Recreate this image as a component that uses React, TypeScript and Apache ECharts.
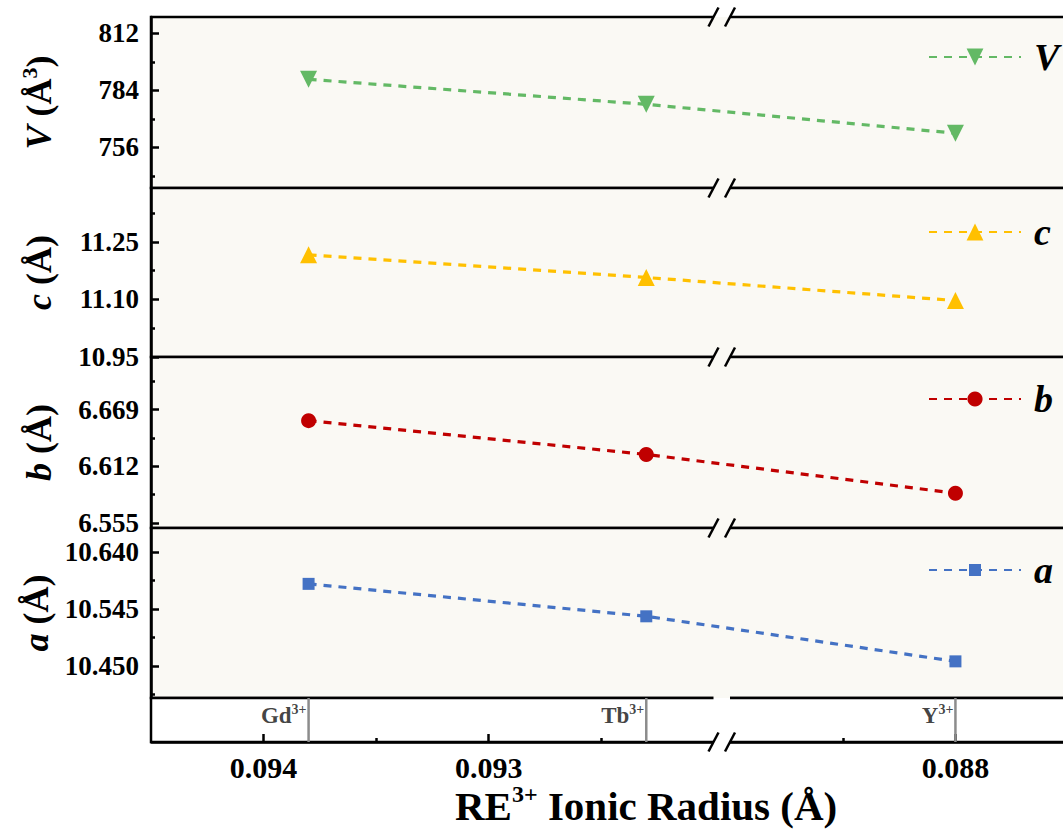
import React, { useEffect, useRef } from 'react';
import * as echarts from 'echarts';

// ---------- data ----------
const ions = ['Gd', 'Tb', 'Y'];
const ionicRadius = [0.0938, 0.0923, 0.088];
const volumeV = [789.4, 777.1, 762.9];
const latticeC = [11.216, 11.157, 11.097];
const latticeB = [6.658, 6.624, 6.585];
const latticeA = [10.587, 10.533, 10.458];

const xTickLabels = [0.094, 0.093, 0.088];
const xMinorTicks = [0.0935, 0.0925, 0.0885];
const xBreakStart = 0.089;
const xBreakEnd = 0.092;

const vTicks = [756, 784, 812];
const vMinor = [742, 770, 798];
const cTicks = [10.95, 11.1, 11.25];
const cMinor = [11.025, 11.175, 11.325];
const bTicks = [6.555, 6.612, 6.669];
const bMinor = [6.5835, 6.6405, 6.6975];
const aTicks = [10.45, 10.545, 10.64];
const aMinor = [10.4025, 10.4975, 10.5925];

// ---------- style ----------
const SERIF = "'Times New Roman', 'Liberation Serif', serif";
const PANEL_BG = '#FAF9F4';
const X_MIN = 0.0875;
const X_MAX = 0.0945;
const BREAK_GAP = 0.0000733;
const GRID_LEFT = 151;
const GRID_WIDTH = 917;

const panels = [
  { name: 'V', values: volumeV, min: 736, max: 820, ticks: vTicks, minor: vMinor, dec: 0, top: 17, height: 171,
    color: '#63B965', symbol: 'triangle', rotate: 180, size: 17, legendH: 21, legendTop: 36,
    axisName: '{i|V}{n| (Å}{s|3}{n|)}' },
  { name: 'c', values: latticeC, min: 10.95, max: 11.39, ticks: cTicks, minor: cMinor, dec: 2, top: 188, height: 169,
    color: '#FFC000', symbol: 'triangle', rotate: 0, size: 17, legendH: 21, legendTop: 211,
    axisName: '{i|c}{n| (Å)}' },
  { name: 'b', values: latticeB, min: 6.55, max: 6.722, ticks: bTicks, minor: bMinor, dec: 3, top: 357, height: 171,
    color: '#C00000', symbol: 'circle', rotate: 0, size: 15, legendH: 19, legendTop: 378,
    axisName: '{i|b}{n| (Å)}' },
  { name: 'a', values: latticeA, min: 10.397, max: 10.68, ticks: aTicks, minor: aMinor, dec: 3, top: 528, height: 170,
    color: '#4472C4', symbol: 'rect', rotate: 0, size: 12, legendH: 15, legendTop: 549,
    axisName: '{i|a}{n| (Å)}' },
];

const STRIP_TOP = 698;
const STRIP_HEIGHT = 44;

const nameRich = {
  i: { fontFamily: SERIF, fontWeight: 'bold', fontStyle: 'italic', fontSize: 36, lineHeight: 42, color: '#000' },
  n: { fontFamily: SERIF, fontWeight: 'bold', fontSize: 36, lineHeight: 42, color: '#000' },
  s: { fontFamily: SERIF, fontWeight: 'bold', fontSize: 22, lineHeight: 30, verticalAlign: 'top', color: '#000' },
};

function xAxisBase(gridIndex: number) {
  return {
    type: 'value',
    gridIndex,
    inverse: true,
    min: X_MIN,
    max: X_MAX,
    breaks: [{ start: xBreakStart, end: xBreakEnd, gap: BREAK_GAP }],
    breakArea: { show: false },
    splitLine: { show: false },
  };
}

function buildOption() {
  const grids: any[] = panels.map((p) => ({
    left: GRID_LEFT, top: p.top, width: GRID_WIDTH, height: p.height,
    show: true, backgroundColor: PANEL_BG, borderColor: '#000', borderWidth: 2.5,
    outerBoundsMode: 'none',
  }));
  grids.push({
    left: GRID_LEFT, top: STRIP_TOP, width: GRID_WIDTH, height: STRIP_HEIGHT,
    show: true, backgroundColor: '#fff', borderColor: '#000', borderWidth: 2.5,
    outerBoundsMode: 'none',
  });

  const xAxes: any[] = panels.map((_, i) => ({ ...xAxisBase(i), show: false }));
  xAxes.push({
    ...xAxisBase(4),
    position: 'bottom',
    axisLine: { show: true, lineStyle: { color: '#000', width: 2.5 } },
    axisTick: { show: true, inside: true, length: 8, lineStyle: { color: '#000', width: 2.5 }, customValues: xTickLabels },
    axisLabel: {
      show: true, customValues: xTickLabels, formatter: (v: number) => v.toFixed(3),
      fontFamily: SERIF, fontWeight: 'bold', fontSize: 30, color: '#000', margin: 10,
    },
  });
  xAxes.push({
    ...xAxisBase(4),
    position: 'bottom',
    axisLine: { show: false },
    axisTick: { show: true, inside: true, length: 4, lineStyle: { color: '#000', width: 2.5 }, customValues: xMinorTicks },
    axisLabel: { show: false },
  });

  const yAxes: any[] = [];
  panels.forEach((p, i) => {
    yAxes.push({
      type: 'value', gridIndex: i, min: p.min, max: p.max, position: 'left',
      name: p.axisName, nameLocation: 'middle', nameRotate: 90, nameGap: 91,
      nameTextStyle: { rich: nameRich },
      axisLine: { show: true, lineStyle: { color: '#000', width: 2.5 } },
      axisTick: { show: true, inside: true, length: 8, lineStyle: { color: '#000', width: 2.5 }, customValues: p.ticks },
      axisLabel: {
        show: true, customValues: p.ticks, formatter: (v: number) => v.toFixed(p.dec),
        fontFamily: SERIF, fontWeight: 'bold', fontSize: 27, color: '#000', margin: 12,
      },
      splitLine: { show: false },
    });
    yAxes.push({
      type: 'value', gridIndex: i, min: p.min, max: p.max, position: 'left',
      axisLine: { show: false },
      axisTick: { show: true, inside: true, length: 4, lineStyle: { color: '#000', width: 2.5 }, customValues: p.minor },
      axisLabel: { show: false },
      splitLine: { show: false },
    });
  });
  yAxes.push({ type: 'value', gridIndex: 4, min: 0, max: 1, show: false });
  const stripY = yAxes.length - 1;

  const series: any[] = panels.map((p, i) => ({
    name: p.name,
    type: 'line',
    xAxisIndex: i,
    yAxisIndex: i * 2,
    data: ionicRadius.map((r, k) => [r, p.values[k]]),
    symbol: p.symbol,
    symbolRotate: p.rotate,
    symbolSize: p.size,
    itemStyle: { color: p.color },
    lineStyle: { color: p.color, width: 3.2, type: [8, 7] },
    z: 5,
  }));

  // gray marker lines for each ion in the bottom strip
  ionicRadius.forEach((r, k) => {
    series.push({
      name: `${ions[k]}-line`,
      type: 'line',
      xAxisIndex: 4,
      yAxisIndex: stripY,
      data: [[r, 0], [r, 1]],
      symbol: 'none',
      silent: true,
      lineStyle: { color: '#8C8C8C', width: 2.5, type: 'solid' },
      z: 4,
    });
  });

  series.push({
    name: 'ions',
    type: 'scatter',
    xAxisIndex: 4,
    yAxisIndex: stripY,
    data: ionicRadius.map((r, k) => ({ value: [r, 1], name: ions[k] })),
    symbolSize: 0,
    silent: true,
    label: {
      show: true,
      position: 'left',
      distance: 2,
      offset: [0, 17],
      formatter: (p: any) => `{b|${p.name}}{s|3+}`,
      rich: {
        b: { fontFamily: SERIF, fontWeight: 'bold', fontSize: 23, lineHeight: 26, color: '#111' },
        s: { fontFamily: SERIF, fontWeight: 'bold', fontSize: 14, lineHeight: 16, verticalAlign: 'top', color: '#111' },
      },
    },
    z: 6,
  });

  const legends = panels.map((p) => ({
    data: [p.name],
    left: 928,
    top: p.legendTop,
    padding: 0,
    itemWidth: 92,
    itemHeight: p.legendH,
    selectedMode: false,
    textStyle: {
      fontFamily: SERIF, fontWeight: 'bold', fontStyle: 'italic', fontSize: 38, lineHeight: 42,
      color: '#000', padding: [0, 0, 0, 8],
    },
  }));

  // break decorations
  const breakX1 = 713.5;
  const breakX2 = 730;
  const slashLines = [17, 188, 357, 528, 742];
  const graphics: any[] = [];
  const masks = [
    { y: 15, h: 2, fill: '#fff' }, { y: 17, h: 2.5, fill: PANEL_BG },
    { y: 186, h: 4, fill: PANEL_BG }, { y: 355, h: 4, fill: PANEL_BG }, { y: 526, h: 4, fill: PANEL_BG },
    { y: 696, h: 2, fill: PANEL_BG }, { y: 698, h: 41.5, fill: '#fff' },
    { y: 739.5, h: 5, fill: '#fff' },
  ];
  masks.forEach((m) => {
    graphics.push({ type: 'rect', z: 100, silent: true, shape: { x: breakX1, y: m.y, width: breakX2 - breakX1, height: m.h }, style: { fill: m.fill } });
  });
  slashLines.forEach((y) => {
    [breakX1, breakX2].forEach((cx) => {
      graphics.push({ type: 'line', z: 101, silent: true, shape: { x1: cx - 5, y1: y + 9.5, x2: cx + 5, y2: y - 9.5 }, style: { stroke: '#000', lineWidth: 2.5 } });
    });
  });

  return {
    animation: false,
    backgroundColor: '#fff',
    title: {
      text: '{n|RE}{s|3+}{n| Ionic Radius (Å)}',
      left: 455,
      top: 782,
      padding: 0,
      textStyle: {
        rich: {
          n: { fontFamily: SERIF, fontWeight: 'bold', fontSize: 41, lineHeight: 48, color: '#000' },
          s: { fontFamily: SERIF, fontWeight: 'bold', fontSize: 24, lineHeight: 32, verticalAlign: 'top', color: '#000' },
        },
      },
    },
    legend: legends,
    grid: grids,
    xAxis: xAxes,
    yAxis: yAxes,
    series,
    graphic: graphics,
  };
}

export default function App() {
  const ref = useRef<HTMLDivElement>(null);
  useEffect(() => {
    const chart = echarts.init(ref.current!, null, { renderer: 'svg' });
    chart.setOption(buildOption() as any);
    return () => chart.dispose();
  }, []);
  return (
    <div style={{ position: 'absolute', left: 0, top: 0, width: 1063, height: 834, overflow: 'hidden', background: '#fff' }}>
      <div ref={ref} style={{ width: 1075, height: 834 }} />
    </div>
  );
}
